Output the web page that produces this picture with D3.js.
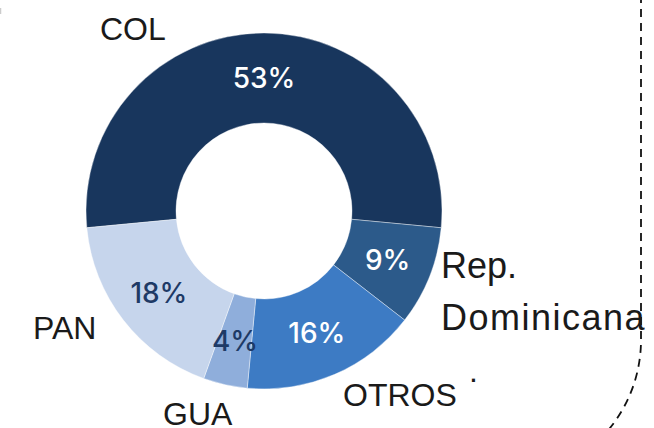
<!DOCTYPE html>
<html>
<head>
<meta charset="utf-8">
<script src="https://cdn.jsdelivr.net/npm/d3@7"></script>
<style>
  html, body { margin: 0; padding: 0; background: #fff; }
  svg { display: block; }
</style>
</head>
<body>
<div id="chart"></div>
<script>
// datos del donut
const categories = ["COL", "Rep. Dominicana", "OTROS", "GUA", "PAN"];
const shares = [53, 9, 16, 4, 18];
const pctLabels = ["53%", "9%", "16%", "4%", "18%"];
const sliceColors = ["#18365d", "#2c5a8a", "#3d7bc4", "#8faedb", "#c6d5ec"];
const pctColors = ["#fff", "#fff", "#fff", "#1e3a66", "#1e3a66"];

const width = 654, height = 428;
const cx = 264, cy = 211;
const outerR = 178, innerR = 88;

const svg = d3.select("#chart").append("svg")
    .attr("width", width)
    .attr("height", height);

// borde punteado del panel (esquina redondeada)
let border = d3.path();
border.moveTo(641, -5);
border.lineTo(641, 340);
border.arc(500.6, 340, 140.4, 0, Math.PI / 2.6, false);
svg.append("path")
    .attr("d", border.toString())
    .attr("fill", "none")
    .attr("stroke", "#111")
    .attr("stroke-width", 1.8)
    .attr("stroke-dasharray", "8,6");

svg.append("line")
    .attr("x1", 0.5).attr("x2", 0.5).attr("y1", 8).attr("y2", 14)
    .attr("stroke", "#ccc").attr("stroke-width", 1.5);

// COL centrado arriba
const start = -Math.PI * shares[0] / 100;
const pie = d3.pie().sort(null).value(d => d)
    .startAngle(start).endAngle(start + 2 * Math.PI);
const arcs = pie(shares);

const arc = d3.arc().innerRadius(innerR).outerRadius(outerR);
const g = svg.append("g").attr("transform", `translate(${cx},${cy})`);

g.selectAll("path.slice")
    .data(arcs)
    .enter().append("path")
    .attr("class", "slice")
    .attr("d", arc)
    .attr("fill", (d, i) => sliceColors[i])
    .attr("stroke", "#fff")
    .attr("stroke-width", 0.4);

g.selectAll("text.pct")
    .data(arcs)
    .enter().append("text")
    .attr("class", "pct")
    .attr("transform", d => `translate(${arc.centroid(d)})`)
    .attr("text-anchor", "middle")
    .attr("dy", "0.36em")
    .attr("fill", (d, i) => pctColors[i])
    .style("font", "500 28px Inter, 'Open Sans', sans-serif")
    .text((d, i) => pctLabels[i]);

// etiquetas de países (posiciones a mano, como en el original)
const namePos = [
    { x: 100, y: 40, size: 32 },
    { x: 441, y: 278, size: 36 },
    { x: 343, y: 406, size: 32 },
    { x: 163, y: 425, size: 32 },
    { x: 33, y: 339, size: 32 }
];

categories.forEach((name, i) => {
    let p = namePos[i];
    let t = svg.append("text")
        .attr("x", p.x)
        .attr("y", p.y)
        .attr("fill", "#1a1a1a")
        .style("font", `${p.size}px 'Liberation Sans', Arial, sans-serif`);
    let parts = name.split(" ");
    if (parts.length > 1) {
        t.append("tspan").attr("x", p.x).text(parts[0]);
        t.append("tspan").attr("x", p.x).attr("dy", 52)
            .attr("letter-spacing", 1.5).text(parts[1]);
    } else {
        t.text(name);
    }
});

svg.append("text")
    .attr("x", 469).attr("y", 382)
    .attr("fill", "#1a1a1a")
    .style("font", "32px 'Liberation Sans', Arial, sans-serif")
    .text(".");
</script>
</body>
</html>
